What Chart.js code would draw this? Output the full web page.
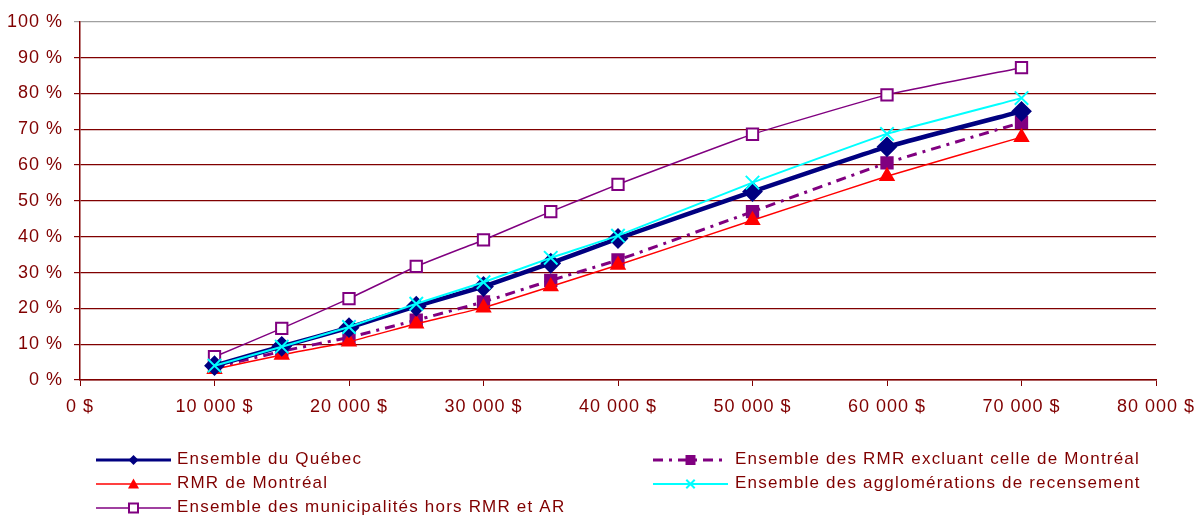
<!DOCTYPE html>
<html>
<head>
<meta charset="utf-8">
<script src="https://cdn.jsdelivr.net/npm/chart.js@4/dist/chart.umd.min.js"></script>
<style>
  body { margin: 0; background: #fff; }
</style>
</head>
<body>
<canvas id="chart" width="1195" height="518"></canvas>
<script>
// Revenu (x)
const revenus = [10000, 15000, 20000, 25000, 30000, 35000, 40000, 50000, 60000, 70000];

// Séries (%)
const quebec = [4.0, 9.4, 14.6, 20.6, 26.1, 32.6, 39.5, 52.6, 65.1, 75.0];
const rmrSansMtl = [3.5, 8.0, 11.9, 16.7, 21.8, 27.8, 33.5, 47.0, 60.6, 71.9];
const rmrMtl = [3.0, 7.0, 10.7, 15.7, 20.2, 26.1, 32.1, 44.6, 56.9, 67.8];
const agglos = [4.0, 9.3, 14.8, 21.3, 27.3, 34.1, 40.3, 55.1, 68.7, 78.7];
const horsRmr = [6.5, 14.4, 22.7, 31.7, 39.1, 47.0, 54.6, 68.6, 79.6, 87.2];

const labels = [
  "Ensemble du Québec",
  "Ensemble des RMR excluant celle de Montréal",
  "RMR de Montréal",
  "Ensemble des agglomérations de recensement",
  "Ensemble des municipalités hors RMR et AR"
];

const textColor = "#800000";
const font = "'Liberation Sans', Arial, sans-serif";

function pts(vals) {
  return vals.map((v, i) => ({ x: revenus[i], y: v }));
}

function formatDollar(v) {
  return String(v).replace(/\B(?=(\d{3})+(?!\d))/g, " ") + " $";
}

// styles des séries (aussi utilisés par la légende)
// r = rayon Chart.js sur le graphique, lr = demi-taille du marqueur dans la légende
const styles = [
  { color: "#000080", width: 4.5, dash: [], point: "diamond", r: 9, lr: 5, fill: true, order: 2 },
  { color: "#800080", width: 3, dash: [10, 6, 3, 6], point: "square", r: 8, lr: 5, fill: true, order: 4 },
  { color: "#ff0000", width: 1.5, dash: [], point: "triangle", r: 7.5, lr: 5.5, fill: true, order: 3 },
  { color: "#00ffff", width: 2, dash: [], point: "cross", r: 9.5, lr: 6, fill: false, order: 1 },
  { color: "#800080", width: 1.5, dash: [], point: "hollow", r: 8, lr: 4.5, fill: false, order: 5 }
];
const series = [quebec, rmrSansMtl, rmrMtl, agglos, horsRmr];

const chartPointStyle = { diamond: "rectRot", square: "rect", triangle: "triangle", cross: "crossRot", hollow: "rect" };

// dessin d'un marqueur pour la légende
function drawMarker(ctx, s, x, y) {
  ctx.save();
  ctx.setLineDash([]);
  ctx.fillStyle = s.color;
  ctx.strokeStyle = s.color;
  ctx.lineWidth = 2;
  const r = s.lr;
  ctx.beginPath();
  if (s.point === "diamond") {
    ctx.moveTo(x, y - r); ctx.lineTo(x + r, y); ctx.lineTo(x, y + r); ctx.lineTo(x - r, y); ctx.closePath(); ctx.fill();
  } else if (s.point === "square") {
    ctx.rect(x - r, y - r, 2 * r, 2 * r); ctx.fill();
  } else if (s.point === "triangle") {
    ctx.moveTo(x, y - r); ctx.lineTo(x + r, y + r * 0.8); ctx.lineTo(x - r, y + r * 0.8); ctx.closePath(); ctx.fill();
  } else if (s.point === "cross") {
    ctx.moveTo(x - r * 0.7, y - r * 0.7); ctx.lineTo(x + r * 0.7, y + r * 0.7);
    ctx.moveTo(x + r * 0.7, y - r * 0.7); ctx.lineTo(x - r * 0.7, y + r * 0.7); ctx.stroke();
  } else {
    ctx.fillStyle = "#fff";
    ctx.rect(x - r, y - r, 2 * r, 2 * r); ctx.fill(); ctx.stroke();
  }
  ctx.restore();
}

// position des entrées de légende : [x début ligne, x fin ligne, y, x texte]
const legendPos = [
  [96, 171, 460, 177],
  [653, 728, 460, 735],
  [96, 171, 484, 177],
  [653, 728, 484, 735],
  [96, 171, 508, 177]
];

const legendPlugin = {
  id: "legendeExcel",
  beforeDraw(chart) {
    chart.ctx.letterSpacing = "1px";
  },
  afterDraw(chart) {
    const ctx = chart.ctx;
    ctx.save();
    ctx.font = "17px " + font;
    ctx.letterSpacing = "1.2px";
    ctx.textBaseline = "middle";
    ctx.fillStyle = textColor;
    styles.forEach((s, i) => {
      const [x1, x2, y, xt] = legendPos[i];
      ctx.beginPath();
      ctx.strokeStyle = s.color;
      ctx.lineWidth = Math.min(s.width, 3);
      ctx.setLineDash(s.dash);
      ctx.moveTo(x1, y);
      ctx.lineTo(x2, y);
      ctx.stroke();
      drawMarker(ctx, s, (x1 + x2) / 2, y);
      ctx.fillText(labels[i], xt, y - 1);
    });
    ctx.restore();
  }
};

new Chart(document.getElementById("chart"), {
  type: "line",
  data: {
    datasets: series.map((vals, i) => {
      const s = styles[i];
      return {
        label: labels[i],
        data: pts(vals),
        borderColor: s.color,
        borderWidth: s.width,
        borderDash: s.dash,
        tension: 0.12,
        pointStyle: chartPointStyle[s.point],
        pointRadius: s.r,
        pointBorderWidth: 2,
        pointBackgroundColor: s.fill ? s.color : "#fff",
        pointBorderColor: s.color,
        fill: false,
        order: s.order
      };
    })
  },
  options: {
    responsive: false,
    animation: false,
    layout: { padding: { top: 20, right: 39, left: 0, bottom: 0 } },
    plugins: {
      legend: { display: false },
      tooltip: { enabled: false }
    },
    scales: {
      x: {
        type: "linear",
        min: 0,
        max: 80000,
        afterFit: (scale) => {
          scale.height = 138;
          scale.paddingLeft = 0;
          scale.paddingRight = 0;
        },
        border: { color: textColor, width: 1.5 },
        grid: { drawOnChartArea: false, color: textColor, tickLength: 6 },
        ticks: {
          stepSize: 10000,
          color: textColor,
          padding: 10,
          maxRotation: 0,
          font: { size: 18, family: font },
          callback: (v) => formatDollar(v)
        }
      },
      y: {
        min: 0,
        max: 100,
        afterFit: (scale) => { scale.width = 80; },
        border: { color: textColor, width: 1.5 },
        grid: {
          color: (c) => (c.tick && c.tick.value === 100 ? "#a0a0a0" : textColor),
          lineWidth: 1.2,
          tickLength: 6
        },
        ticks: {
          stepSize: 10,
          color: textColor,
          padding: 11,
          font: { size: 18, family: font },
          callback: (v) => v + " %"
        }
      }
    }
  },
  plugins: [legendPlugin]
});
</script>
</body>
</html>
